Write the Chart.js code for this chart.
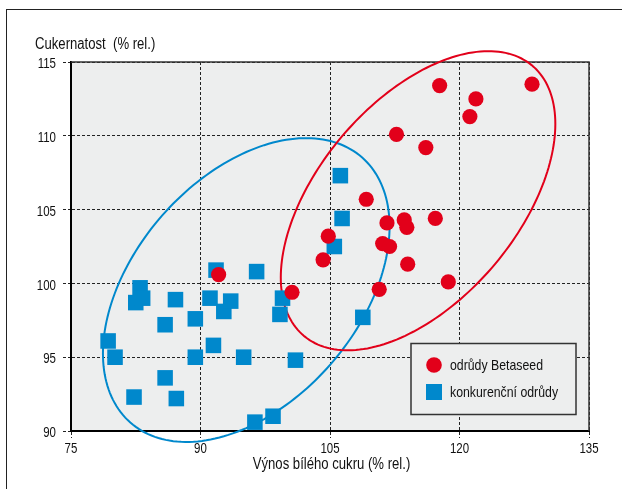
<!DOCTYPE html>
<html>
<head>
<meta charset="utf-8">
<script src="https://cdn.jsdelivr.net/npm/chart.js@4.4.0/dist/chart.umd.min.js"></script>
<style>
  html, body { margin: 0; padding: 0; background: #fff; overflow: hidden; }
  #wrap { position: relative; width: 622px; height: 489px; }
  #frame { position: absolute; left: 6px; top: 9px; width: 700px; height: 600px;
           border-left: 1.5px solid #222; border-top: 1.5px solid #222; }
  canvas { position: absolute; left: 0; top: 0; }
</style>
</head>
<body>
<div id="wrap">
  <div id="frame"></div>
  <canvas id="chart" width="622" height="489"></canvas>
</div>
<script>
// odrůdy Betaseed (výnos bílého cukru, cukernatost)
const betaX = [92.1, 100.6, 104.2, 104.8, 109.2, 110.7, 111.1, 111.9, 111.6, 113.6,
               113.9, 114.0, 117.2, 118.7, 112.7, 116.1, 117.7, 121.9, 121.2, 128.4];
const betaY = [100.6, 99.4, 101.6, 103.2, 105.7, 99.6, 102.7, 102.5, 104.1, 104.3,
               103.8, 101.3, 104.4, 100.1, 110.1, 109.2, 113.4, 112.5, 111.3, 113.5];

// konkurenční odrůdy
const konkX = [79.3, 80.1, 83.0, 82.5, 83.3, 82.3, 85.9, 87.1, 85.9, 87.2,
               89.4, 89.4, 91.1, 91.8, 92.7, 93.5, 91.5, 95.0, 96.5, 96.3,
               98.4, 99.5, 99.2, 101.0, 106.2, 106.4, 105.5, 108.8];
const konkY = [96.1, 95.0, 99.7, 98.7, 99.0, 92.3, 97.2, 98.9, 93.6, 92.2,
               97.6, 95.0, 99.0, 100.9, 98.1, 98.8, 95.8, 95.0, 100.8, 90.6,
               91.0, 99.0, 97.9, 94.8, 107.3, 104.4, 102.5, 97.7];

// ellipsy: střed x, střed y, poloosa (dx, dy), svislá složka druhé poloosy
const betaEllipse = [115.2, 105.6, 15.9, 5.2, 8.7];
const konkEllipse = [95.3, 99.55, 16.6, 4.3, 9.35];

const xTicks = [75, 90, 105, 120, 135];
const yTicks = [90, 95, 100, 105, 110, 115];

const yTitle = 'Cukernatost  (% rel.)';
const xTitle = 'Výnos bílého cukru (% rel.)';

const FONT = "'Liberation Sans', Arial, sans-serif";
const NARROW = 0.82; // písmo v předloze je zúžené
const RED = '#e2001a';
const BLUE = '#0088cc';

const toPoints = (xs, ys) => xs.map((x, i) => ({ x: x, y: ys[i] }));

// zúžený text pomocí maxWidth u fillText
function narrowText(ctx, text, x, y) {
  const w = ctx.measureText(text).width;
  ctx.fillText(text, x, y, w * NARROW);
}

// pozadí plochy grafu + horní a pravý okraj
const areaPlugin = {
  id: 'area',
  beforeDraw(chart) {
    const { ctx, chartArea: a } = chart;
    ctx.save();
    ctx.fillStyle = '#edeeee';
    ctx.fillRect(a.left, a.top, a.right - a.left, a.bottom - a.top);
    ctx.restore();
  },
  beforeDatasetsDraw(chart) {
    const { ctx, chartArea: a } = chart;
    ctx.save();
    ctx.strokeStyle = '#333';
    ctx.lineWidth = 1.5;
    ctx.beginPath();
    ctx.moveTo(a.left, a.top);
    ctx.lineTo(a.right, a.top);
    ctx.lineTo(a.right, a.bottom);
    ctx.stroke();
    ctx.restore();
  }
};

// ellipsy kreslené přes osy grafu
const ellipsePlugin = {
  id: 'ellipses',
  beforeDatasetsDraw(chart) {
    const { ctx, scales: { x, y } } = chart;
    const draw = (e, color) => {
      const [cx, cy, px, py, qy] = e;
      ctx.save();
      ctx.strokeStyle = color;
      ctx.lineWidth = 2;
      ctx.beginPath();
      for (let i = 0; i <= 200; i++) {
        const t = i / 200 * Math.PI * 2;
        const vx = cx + px * Math.cos(t);
        const vy = cy + py * Math.cos(t) + qy * Math.sin(t);
        const X = x.getPixelForValue(vx), Y = y.getPixelForValue(vy);
        if (i === 0) ctx.moveTo(X, Y); else ctx.lineTo(X, Y);
      }
      ctx.closePath();
      ctx.stroke();
      ctx.restore();
    };
    draw(konkEllipse, BLUE);
    draw(betaEllipse, RED);
  }
};

// popisky os, hodnoty na osách a legenda
const extrasPlugin = {
  id: 'extras',
  afterDraw(chart) {
    const { ctx, chartArea: a, scales: { x, y } } = chart;
    ctx.save();
    ctx.fillStyle = '#111';
    ctx.textBaseline = 'alphabetic';

    ctx.font = '14px ' + FONT;
    ctx.textAlign = 'right';
    y.ticks.forEach(t => narrowText(ctx, String(t.value), a.left - 15, y.getPixelForValue(t.value) + 6.2));
    ctx.textAlign = 'center';
    x.ticks.forEach(t => narrowText(ctx, String(t.value), x.getPixelForValue(t.value), a.bottom + 22));

    ctx.font = '16px ' + FONT;
    narrowText(ctx, xTitle, (a.left + a.right) / 2 + 1.5, a.bottom + 37.5);
    ctx.textAlign = 'left';
    narrowText(ctx, yTitle, 35, 49.3);

    // legenda
    const bx = 411, by = 343.5, bw = 165, bh = 71;
    ctx.fillStyle = '#edeeee';
    ctx.fillRect(bx, by, bw, bh);
    ctx.strokeStyle = '#333';
    ctx.lineWidth = 1.5;
    ctx.strokeRect(bx, by, bw, bh);
    ctx.font = '15px ' + FONT;
    chart.data.datasets.forEach((ds, i) => {
      const yy = by + 21.5 + i * 27;
      ctx.fillStyle = ds.backgroundColor;
      Chart.helpers.drawPoint(ctx, {
        pointStyle: ds.pointStyle,
        radius: ds.pointStyle === 'rect' ? 11.3 : 7.8,
        borderWidth: 0
      }, bx + 23, yy);
      ctx.fillStyle = '#111';
      narrowText(ctx, ds.label, bx + 39, yy + 5.3);
    });
    ctx.restore();
  }
};

new Chart(document.getElementById('chart'), {
  type: 'scatter',
  data: {
    datasets: [
      {
        label: 'odrůdy Betaseed',
        data: toPoints(betaX, betaY),
        pointStyle: 'circle',
        pointRadius: 7.6,
        pointHoverRadius: 7.6,
        pointBorderWidth: 0,
        backgroundColor: RED,
        borderColor: RED,
        clip: false
      },
      {
        label: 'konkurenční odrůdy',
        data: toPoints(konkX, konkY),
        pointStyle: 'rect',
        pointRadius: 11,
        pointHoverRadius: 11,
        pointBorderWidth: 0,
        backgroundColor: BLUE,
        borderColor: BLUE,
        clip: false
      }
    ]
  },
  options: {
    responsive: false,
    devicePixelRatio: 1,
    animation: false,
    layout: { padding: { left: 0, top: 62, right: 33, bottom: 0 } },
    plugins: {
      legend: { display: false },
      tooltip: { enabled: false }
    },
    scales: {
      x: {
        type: 'linear',
        min: 75,
        max: 135,
        afterBuildTicks: s => { s.ticks = xTicks.map(v => ({ value: v })); },
        afterFit: s => { s.height = 58; },
        ticks: { display: false },
        grid: { color: '#222', lineWidth: 1, tickLength: 7, tickColor: '#222', tickBorderDash: [3, 2] },
        border: { color: '#000', width: 2, dash: [3, 2] }
      },
      y: {
        type: 'linear',
        min: 90,
        max: 115,
        afterBuildTicks: s => { s.ticks = yTicks.map(v => ({ value: v })); },
        afterFit: s => { s.width = 71; },
        ticks: { display: false },
        grid: { color: '#222', lineWidth: 1, tickLength: 8, tickColor: '#222', tickBorderDash: [3, 2] },
        border: { color: '#000', width: 2, dash: [3, 2] }
      }
    }
  },
  plugins: [areaPlugin, ellipsePlugin, extrasPlugin]
});
</script>
</body>
</html>
